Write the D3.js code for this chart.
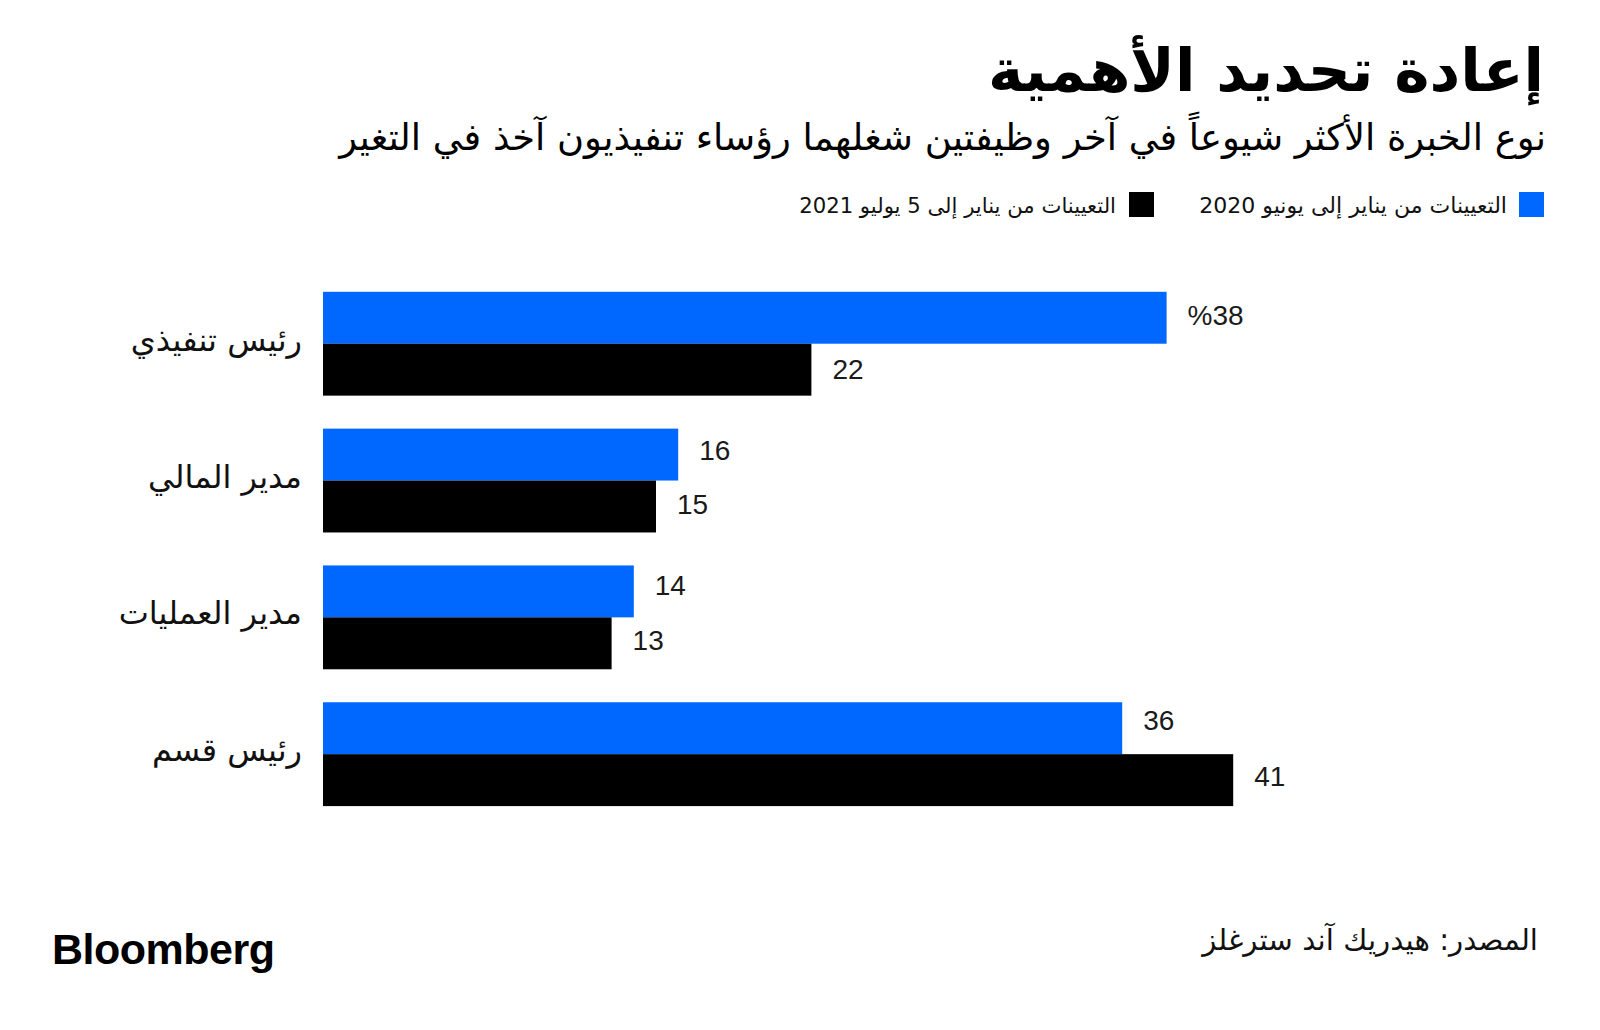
<!DOCTYPE html>
<html lang="ar">
<head>
<meta charset="utf-8">
<script src="https://cdn.jsdelivr.net/npm/d3@7"></script>
<style>
  html, body { margin: 0; padding: 0; background: #fff; }
  svg { display: block; }
  text { font-family: "DejaVu Sans", "Noto Sans", sans-serif; }
</style>
</head>
<body>
<svg id="chart" width="1600" height="1030"></svg>
<script>
// ---- data ----
const categories = ["رئيس تنفيذي", "مدير المالي", "مدير العمليات", "رئيس قسم"];
const series2020 = [38, 16, 14, 36];
const series2021 = [22, 15, 13, 41];
const seriesNames = ["التعيينات من يناير إلى يونيو 2020", "التعيينات من يناير إلى 5 يوليو 2021"];
const valueLabels2020 = ["%38", "16", "14", "36"];
const valueLabels2021 = ["22", "15", "13", "41"];
const titleText = "إعادة تحديد الأهمية";
const subtitleText = "نوع الخبرة الأكثر شيوعاً في آخر وظيفتين شغلهما رؤساء تنفيذيون آخذ في التغير";
const sourceText = "المصدر: هيدريك آند سترغلز";

const colors = ["#0068ff", "#000000"];
const svg = d3.select("#chart");

// fit helper: choose font size so text spans target width
function fitText(sel, targetW, maxSize) {
  let fs = maxSize;
  sel.style("font-size", fs + "px");
  const w = sel.node().getComputedTextLength();
  if (w > 0) { fs = Math.min(maxSize * 1.4, fs * targetW / w); sel.style("font-size", fs + "px"); }
}

// ---- title / subtitle ----
const title = svg.append("text")
  .attr("x", 1544).attr("y", 91)
  .attr("text-anchor", "end")
  .style("font-weight", "bold").attr("fill", "#000")
  .text(titleText);
fitText(title, 556, 66);

const sub = svg.append("text")
  .attr("x", 1546).attr("y", 150)
  .attr("text-anchor", "end")
  .attr("fill", "#000")
  .text(subtitleText);
fitText(sub, 1207, 32);

// ---- legend ----
const legendItems = [
  {sq: 1519, tx: 1507, w: 308, name: seriesNames[0], color: colors[0]},
  {sq: 1129, tx: 1116, w: 317, name: seriesNames[1], color: colors[1]}
];
const lg = svg.append("g");
legendItems.forEach(d => {
  lg.append("rect").attr("x", d.sq).attr("y", 192).attr("width", 25).attr("height", 25).attr("fill", d.color);
  const t = lg.append("text").attr("x", d.tx).attr("y", 205)
    .attr("text-anchor", "end")
    .attr("dominant-baseline", "central").attr("fill", "#111")
    .text(d.name);
  fitText(t, d.w, 20);
});

// ---- chart ----
const x = d3.scaleLinear().domain([0, 41]).range([323, 323 + 41 * 22.2]);
const y = d3.scaleBand().domain(categories).range([291.8, 806.1]).paddingInner(0.241).paddingOuter(0);
const sub2 = d3.scaleBand().domain([0, 1]).range([0, y.bandwidth()]);

const rows = categories.map((c, i) => ({c, i, vals: [series2020[i], series2021[i]], labels: [valueLabels2020[i], valueLabels2021[i]]}));

const g = svg.append("g");
const grp = g.selectAll("g.row").data(rows).join("g").attr("class", "row")
  .attr("transform", d => `translate(0,${y(d.c)})`);

grp.selectAll("rect").data(d => d.vals.map((v, k) => ({v, k}))).join("rect")
  .attr("x", x(0))
  .attr("y", d => sub2(d.k))
  .attr("width", d => x(d.v) - x(0))
  .attr("height", sub2.bandwidth())
  .attr("fill", d => colors[d.k]);

grp.selectAll("text.val").data(d => d.vals.map((v, k) => ({v, k, i: d.i, lab: d.labels[k]}))).join("text")
  .attr("class", "val")
  .attr("x", d => x(d.v) + 21)
  .attr("y", d => sub2(d.k) + sub2.bandwidth() / 2 + (d.k === 0 ? -2.5 - 1.8 * d.i : -0.5 - 1.0 * d.i))
  .attr("dominant-baseline", "central")
  .attr("fill", "#1a1a1a")
  .style("font-family", "'Liberation Sans', Arial, sans-serif")
  .style("font-size", "28px")
  .text(d => d.lab);

// category labels
const yAxis = d3.axisLeft(y).tickSize(0).tickPadding(0);
const ax = svg.append("g").attr("transform", "translate(302,0)").call(yAxis);
ax.select(".domain").remove();
ax.selectAll("text")
  .attr("text-anchor", "end")
  .attr("dy", "0.22em")
  .attr("fill", "#111")
  .style("font-family", "'DejaVu Sans', sans-serif")
  .style("font-size", "32px");

// ---- footer ----
svg.append("text").attr("x", 52).attr("y", 964)
  .style("font-family", "'Liberation Sans', Arial, sans-serif")
  .style("font-weight", "bold").style("font-size", "43px")
  .style("letter-spacing", "-0.5px")
  .attr("fill", "#000").text("Bloomberg");

const src = svg.append("text").attr("x", 1538).attr("y", 940)
  .attr("text-anchor", "end")
  .attr("dominant-baseline", "central").attr("fill", "#111")
  .text(sourceText);
fitText(src, 336, 26);
</script>
</body>
</html>
